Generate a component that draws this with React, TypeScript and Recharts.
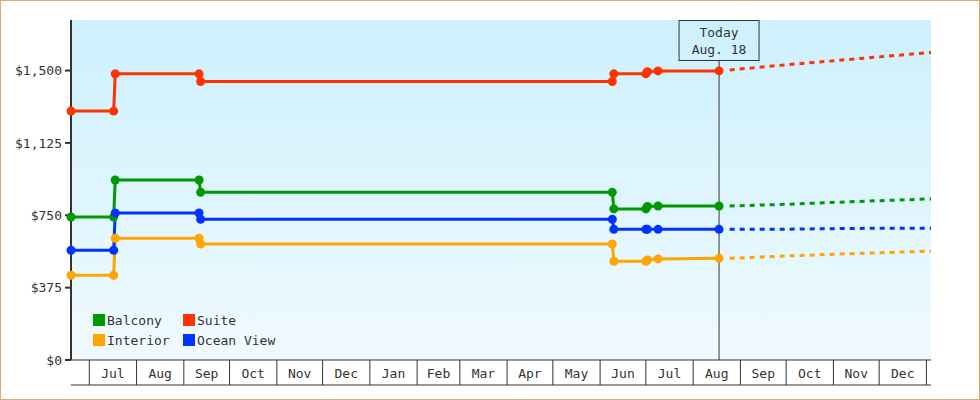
import {
  CartesianGrid,
  Legend,
  Line,
  LineChart,
  ReferenceLine,
  XAxis,
  YAxis,
} from "recharts";

const histDates = [
  "2014-06-19", "2014-07-17", "2014-07-18", "2014-09-11", "2014-09-12",
  "2015-06-09", "2015-06-10", "2015-07-01", "2015-07-02", "2015-07-09", "2015-08-18",
];
const balcony = [741, 741, 933, 933, 869, 869, 783, 783, 796, 798, 798];
const suite = [1290, 1290, 1483, 1483, 1443, 1443, 1483, 1483, 1494, 1498, 1498];
const oceanView = [569, 569, 762, 762, 729, 729, 677, 677, 677, 677, 677];
const interior = [439, 439, 631, 631, 601, 601, 512, 512, 518, 524, 527];

const forecastDates = ["2015-08-25", "2015-10-01", "2015-11-15", "2016-01-04"];
const balconyForecast = [798, 807, 821, 835];
const suiteForecast = [1503, 1530, 1560, 1594];
const oceanViewForecast = [677, 678, 682, 683];
const interiorForecast = [527, 539, 552, 564];

const monthStarts = [
  "2014-07-01", "2014-08-01", "2014-09-01", "2014-10-01", "2014-11-01", "2014-12-01",
  "2015-01-01", "2015-02-01", "2015-03-01", "2015-04-01", "2015-05-01", "2015-06-01",
  "2015-07-01", "2015-08-01", "2015-09-01", "2015-10-01", "2015-11-01", "2015-12-01",
  "2016-01-01",
];
const monthLabels = [
  "Jul", "Aug", "Sep", "Oct", "Nov", "Dec", "Jan", "Feb", "Mar",
  "Apr", "May", "Jun", "Jul", "Aug", "Sep", "Oct", "Nov", "Dec",
];
const yTicks = [0, 375, 750, 1125, 1500];
const today = "2015-08-18";
const todayLabel = ["Today", "Aug. 18"];
const xDomain = ["2014-06-19", "2016-01-04"];

const GREEN = "#009900";
const RED = "#ff3300";
const BLUE = "#0033ff";
const ORANGE = "#ffa500";
const INK = "#333";
const FONT = "'DejaVu Sans Mono', monospace";

const day = (s: string) => Date.UTC(+s.slice(0, 4), +s.slice(5, 7) - 1, +s.slice(8, 10)) / 86400000;

const histData = histDates.map((d, i) => ({
  t: day(d),
  balcony: balcony[i],
  suite: suite[i],
  oceanView: oceanView[i],
  interior: interior[i],
}));
const forecastData = forecastDates.map((d, i) => ({
  t: day(d),
  balcony: balconyForecast[i],
  suite: suiteForecast[i],
  oceanView: oceanViewForecast[i],
  interior: interiorForecast[i],
}));

const sepTicks = monthStarts.map(day);
const labelTicks = monthLabels.map((_, i) => (sepTicks[i] + sepTicks[i + 1]) / 2);
const labelFor: Record<number, string> = {};
labelTicks.forEach((t, i) => (labelFor[t] = monthLabels[i]));

const series = [
  { key: "balcony", name: "Balcony", color: GREEN },
  { key: "interior", name: "Interior", color: ORANGE },
  { key: "oceanView", name: "Ocean View", color: BLUE },
  { key: "suite", name: "Suite", color: RED },
];
const legendOrder = ["balcony", "suite", "interior", "oceanView"];

const money = (v: number) => `$${v.toLocaleString("en-US")}`;

function MonthLabel(props: any) {
  const { x, y, payload } = props;
  return (
    <text x={x} y={y - 7} textAnchor="middle" fill={INK} fontSize={13} fontFamily={FONT}>
      {labelFor[payload.value]}
    </text>
  );
}

function TodayBox(props: any) {
  const { x, y } = props.viewBox;
  return (
    <g>
      <rect x={x - 40} y={y + 0.5} width={80} height={40} fill="url(#plotBg)" stroke={INK} />
      <text x={x} y={y + 16.5} textAnchor="middle" fill={INK} fontSize={13} fontFamily={FONT}>
        {todayLabel[0]}
      </text>
      <text x={x} y={y + 34} textAnchor="middle" fill={INK} fontSize={13} fontFamily={FONT}>
        {todayLabel[1]}
      </text>
    </g>
  );
}

function LegendBox() {
  return (
    <div
      style={{
        display: "grid",
        gridTemplateColumns: "90px 110px",
        fontFamily: FONT,
        fontSize: 13,
        color: INK,
      }}
    >
      {legendOrder.map((k) => {
        const s = series.find((x) => x.key === k)!;
        return (
          <div key={k} style={{ display: "flex", alignItems: "center", height: 20 }}>
            <span style={{ width: 12, height: 12, background: s.color, marginRight: 2 }} />
            <span>{s.name}</span>
          </div>
        );
      })}
    </div>
  );
}

export default function App() {
  return (
    <div style={{ position: "absolute", left: 0, top: 0, width: 980, height: 400, background: "#fff" }}>
      <LineChart
        width={980}
        height={400}
        margin={{ top: 20, right: 49, bottom: 0, left: 0 }}
      >
        <defs>
          <linearGradient id="plotBg" gradientUnits="userSpaceOnUse" x1="0" y1="20" x2="0" y2="360">
            <stop offset="0%" stopColor="#ccf0fd" />
            <stop offset="100%" stopColor="#f0faff" />
          </linearGradient>
        </defs>
        <CartesianGrid fill="url(#plotBg)" stroke="none" />
        <XAxis
          type="number"
          dataKey="t"
          domain={xDomain.map(day)}
          ticks={sepTicks}
          tick={() => <g />}
          tickSize={25}
          height={25}
          interval={0}
          axisLine={{ stroke: INK }}
          tickLine={{ stroke: INK }}
        />
        {/* label-only axis: no series on it, so overflow flag just pins its domain */}
        <XAxis
          xAxisId="lab"
          type="number"
          dataKey="t"
          domain={xDomain.map(day)}
          ticks={labelTicks}
          tick={<MonthLabel />}
          tickSize={0}
          tickMargin={0}
          height={15}
          interval={0}
          allowDataOverflow
          axisLine={{ stroke: INK }}
          tickLine={false}
        />
        <YAxis
          width={71}
          domain={[0, 1762]}
          ticks={yTicks}
          tickFormatter={money}
          tickSize={6}
          tickMargin={3}
          axisLine={{ stroke: INK, strokeWidth: 2 }}
          tickLine={{ stroke: INK, strokeWidth: 2 }}
          tick={{ fill: INK, fontSize: 13, fontFamily: FONT }}
        />
        <ReferenceLine x={day(today)} stroke={INK} strokeWidth={1} label={<TodayBox />} />
        {series.map((s) => (
          <Line
            key={s.key + "-fc"}
            data={forecastData}
            dataKey={s.key}
            type="linear"
            stroke={s.color}
            strokeWidth={3}
            strokeDasharray="5 5"
            dot={false}
            activeDot={false}
            legendType="none"
            isAnimationActive={false}
          />
        ))}
        {series.map((s) => (
          <Line
            key={s.key}
            data={histData}
            dataKey={s.key}
            name={s.name}
            type="linear"
            stroke={s.color}
            strokeWidth={3}
            dot={{ r: 4.5, fill: s.color, stroke: "none" }}
            activeDot={false}
            isAnimationActive={false}
          />
        ))}
        <Legend
          layout="vertical"
          verticalAlign="middle"
          align="center"
          content={() => <LegendBox />}
          wrapperStyle={{ left: 93, top: 310, width: 220 }}
        />
      </LineChart>
      <div
        style={{
          position: "absolute",
          left: 0,
          top: 0,
          width: 980,
          height: 400,
          boxSizing: "border-box",
          border: "1px solid #eaa862",
          pointerEvents: "none",
        }}
      />
    </div>
  );
}
